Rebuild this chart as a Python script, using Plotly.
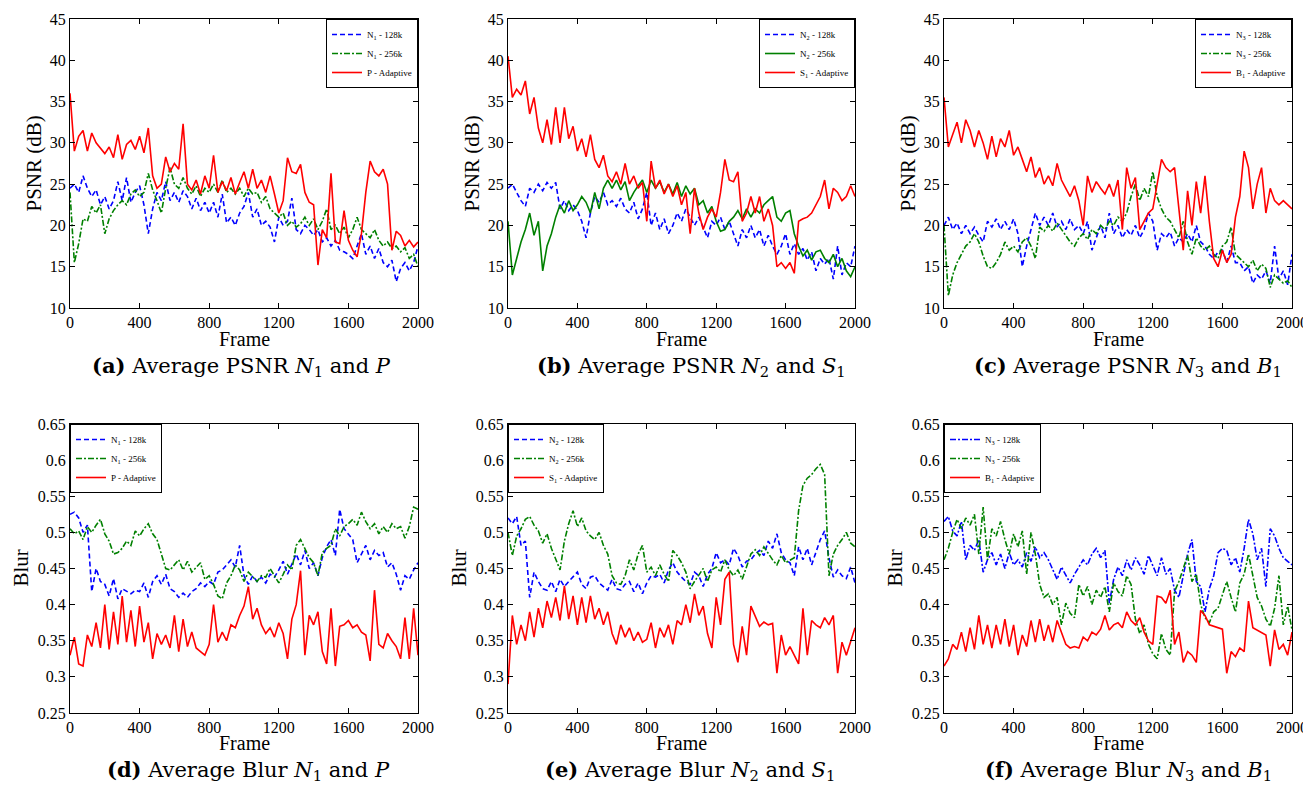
import plotly.graph_objects as go

# ---------------- data (frame index every 25 frames) ----------------
frames = list(range(0, 2001, 25))

psnr_a_n1_128k = [24.5, 25.0, 24.0, 26.0, 24.5, 23.5, 24.3, 22.5, 23.5, 22.0,
                  23.0, 25.3, 23.0, 25.8, 22.8, 24.0, 24.8, 22.5, 19.0, 22.0,
                  24.0, 23.0, 25.3, 23.0, 24.0, 22.8, 24.2, 23.5, 22.0, 23.3,
                  21.8, 22.8, 21.5, 22.8, 21.0, 23.8, 20.3, 21.0, 20.0, 21.5,
                  22.3, 24.0, 21.0, 22.0, 20.0, 20.5, 19.8, 18.0, 21.0, 20.0,
                  20.5, 23.3, 19.5, 19.0, 20.0, 19.5, 18.8, 19.5, 18.0, 18.5,
                  17.5, 18.2, 17.0, 16.8, 16.5, 16.0, 17.5, 19.0, 16.5, 17.5,
                  16.0, 17.2, 15.5, 15.0, 15.8, 13.2, 14.8, 15.5, 14.5, 15.5,
                  17.5]
psnr_a_n1_256k = [24.0, 15.5, 17.8, 20.8, 20.5, 22.3, 21.5, 22.5, 19.0, 20.8,
                  21.8, 22.5, 23.0, 22.5, 23.8, 24.3, 23.5, 24.0, 26.3, 24.3,
                  23.0, 21.5, 24.5, 27.0, 25.0, 24.5, 25.8, 24.5, 23.8, 24.8,
                  23.5, 24.5, 24.0, 25.0, 24.0, 25.5, 24.0, 24.5, 23.8, 24.5,
                  23.5, 24.5, 23.8, 24.0, 22.8, 23.5, 22.0, 21.5, 21.0, 21.5,
                  20.0, 20.5, 19.8, 20.2, 21.0, 20.0, 20.8, 19.5, 20.5, 22.0,
                  19.5, 20.0, 19.0, 19.8, 18.5, 19.5, 21.0, 19.5, 19.0, 18.5,
                  19.5, 18.2, 17.5, 18.0, 17.2, 17.5, 16.8, 17.3, 16.0, 16.5,
                  15.0]
psnr_a_p_adaptive = [36.0, 29.0, 30.8, 31.5, 29.0, 31.2, 30.0, 29.3, 28.7, 29.5,
                     28.2, 31.0, 28.0, 29.8, 30.3, 29.2, 30.8, 28.8, 31.8, 26.0,
                     24.5, 25.0, 28.3, 26.5, 27.5, 26.8, 32.3, 25.0, 24.3, 25.5,
                     23.8, 26.0, 24.5, 28.5, 24.0, 25.3, 24.2, 25.8, 23.8, 25.2,
                     26.5, 24.5, 26.8, 24.5, 25.5, 24.0, 26.0, 23.8, 21.5, 23.0,
                     28.2, 26.5, 26.3, 27.4, 24.0, 22.8, 22.5, 15.2, 19.5, 18.5,
                     26.3, 18.0, 17.8, 21.8, 18.2, 17.0, 16.2, 19.0, 24.0, 27.8,
                     26.5, 26.0, 26.8, 25.0, 17.0, 19.3, 18.8, 17.5, 18.2, 17.4,
                     18.0]

psnr_b_n2_128k = [24.5, 25.0, 24.0, 23.0, 22.3, 24.5, 24.0, 25.0, 24.2, 25.2,
                  24.5, 25.2, 22.0, 23.0, 21.8, 22.5, 21.8, 20.5, 18.5, 21.5,
                  23.5, 22.8, 24.0, 22.5, 23.0, 22.3, 23.3, 22.0, 21.5, 22.8,
                  20.8, 22.0, 24.0, 20.0, 21.5, 19.5, 20.8, 19.0, 20.0, 21.5,
                  20.5, 22.0, 21.0, 20.0, 21.0, 19.8, 18.5, 20.5, 20.0, 21.0,
                  19.5, 20.5, 19.0, 17.5, 19.5, 18.5, 20.0, 18.5, 19.5, 17.5,
                  18.8, 17.5, 16.5, 17.5, 19.0, 16.5, 17.8, 16.5, 17.2, 15.8,
                  16.8, 14.5, 16.0, 15.3, 16.0, 13.5, 17.5, 14.0, 15.5, 15.0,
                  17.5]
psnr_b_n2_256k = [20.5, 14.0, 16.0, 18.0, 19.5, 21.5, 18.8, 20.5, 14.5, 17.5,
                  19.0, 21.0, 22.5, 21.5, 23.0, 21.8, 22.5, 23.5, 22.8, 21.5,
                  24.0, 22.0, 24.5, 25.5, 24.5, 25.5, 24.3, 25.3, 23.0, 24.0,
                  24.8, 25.5, 24.0, 25.5, 24.5, 25.3, 24.0, 25.0, 23.8, 25.2,
                  23.5, 24.8, 23.8, 24.5, 22.5, 23.0, 21.5, 22.3, 20.5, 19.3,
                  19.5, 20.5, 21.0, 21.8, 20.8, 22.0, 21.0, 22.0, 21.5, 22.5,
                  23.0, 23.5, 21.0, 20.5, 21.5, 21.8, 19.0, 17.5, 16.3, 17.0,
                  15.8, 16.8, 17.0, 16.0, 15.5, 16.5, 15.0, 16.0, 14.5, 13.8,
                  15.0]
psnr_b_s1_adaptive = [40.5, 35.5, 36.5, 35.8, 37.5, 33.5, 35.5, 31.8, 30.0, 32.8,
                      29.8, 34.3, 30.0, 34.3, 30.5, 32.0, 29.0, 30.5, 28.3, 31.0,
                      28.0, 27.0, 28.5, 26.0, 25.3, 26.5, 25.0, 27.5, 25.0, 26.0,
                      24.5, 25.2, 20.5, 27.8, 24.5, 25.5, 23.8, 25.0, 23.5, 24.8,
                      22.5, 24.0, 19.0, 24.5, 21.5, 19.5, 21.0, 22.0, 21.0, 24.0,
                      28.0, 25.5, 25.3, 26.5, 20.5, 21.5, 23.5, 21.5, 23.5, 20.5,
                      22.0, 20.0, 15.0, 15.5, 14.8, 15.5, 14.2, 20.5, 20.8, 21.0,
                      21.5, 22.5, 23.5, 25.5, 22.0, 24.5, 24.0, 23.0, 23.5, 24.8,
                      23.5]

psnr_c_n3_128k = [20.0, 21.0, 19.5, 20.3, 19.0, 20.0, 19.0, 19.8, 18.8, 18.0,
                  20.5, 19.8, 20.8, 19.5, 20.5, 19.5, 20.8, 19.0, 15.0, 17.5,
                  19.5, 21.5, 20.0, 21.0, 20.0, 21.5, 19.8, 20.5, 19.5, 20.8,
                  19.5, 20.0, 19.0, 20.5, 17.0, 18.5, 20.0, 18.5, 21.5, 19.0,
                  20.0, 18.5, 19.5, 18.8, 20.0, 18.5, 19.5, 21.5, 20.5, 17.0,
                  19.0, 18.5, 19.2, 17.5, 18.5, 18.0, 19.0, 18.0, 20.0, 18.0,
                  17.5, 16.5, 16.0, 16.8, 17.0, 15.5, 17.5, 15.5, 15.5, 14.5,
                  15.0, 13.0, 14.0, 13.5, 14.5, 13.0, 17.5, 13.5, 14.5, 12.8,
                  16.5]
psnr_c_n3_256k = [20.0, 11.5, 14.0, 15.5, 16.5, 17.5, 18.0, 19.0, 18.0, 16.3,
                  15.0, 14.8, 15.5, 16.5, 18.0, 17.0, 17.5, 16.8, 18.0, 18.5,
                  17.5, 16.0, 19.8, 19.3, 20.0, 19.3, 20.3, 19.5, 18.8, 18.0,
                  17.5, 18.5, 19.0, 18.3, 19.5, 19.0, 20.0, 19.5, 20.5, 20.0,
                  21.0, 20.5, 21.5, 23.5, 25.0, 23.0, 24.5, 23.5, 26.5, 23.5,
                  22.0, 21.0, 20.5, 19.5, 18.5, 20.5, 18.0, 16.5, 18.5, 17.5,
                  17.0, 17.5, 16.5, 16.0, 17.5, 18.0, 19.8, 16.5, 16.0, 15.5,
                  15.0, 15.8, 14.5, 15.3, 14.8, 12.5, 14.0, 13.5, 13.0, 13.3,
                  12.5]
psnr_c_b1_adaptive = [35.5, 29.5, 31.0, 32.5, 30.0, 32.8, 31.5, 29.5, 31.5, 30.0,
                      28.0, 30.8, 28.3, 30.5, 29.5, 31.5, 28.5, 29.5, 28.0, 26.5,
                      28.3, 25.8, 27.0, 25.0, 26.0, 24.8, 27.5, 25.5, 24.5, 23.5,
                      24.8, 23.0, 20.0, 26.0, 24.0, 25.3, 24.5, 23.8, 25.0, 23.5,
                      25.5, 19.5, 27.0, 24.5, 25.8, 19.5, 20.5, 21.5, 22.0, 25.0,
                      28.0, 27.0, 26.5, 27.0, 22.0, 17.0, 24.2, 20.0, 25.3, 21.5,
                      26.0, 20.5, 16.0, 15.0, 17.0, 15.5, 16.5, 21.0, 23.5, 29.0,
                      27.0, 22.0, 25.0, 27.0, 21.5, 24.5, 23.0, 22.5, 23.0, 22.5,
                      22.0]

blur_d_n1_128k = [0.525, 0.528, 0.520, 0.500, 0.510, 0.418, 0.450, 0.432, 0.428, 0.412,
                  0.436, 0.408, 0.422, 0.418, 0.415, 0.420, 0.418, 0.430, 0.410, 0.432,
                  0.440, 0.428, 0.442, 0.422, 0.418, 0.410, 0.416, 0.410, 0.418, 0.422,
                  0.430, 0.425, 0.432, 0.428, 0.445, 0.448, 0.455, 0.462, 0.452, 0.482,
                  0.440, 0.428, 0.440, 0.432, 0.438, 0.430, 0.442, 0.438, 0.448, 0.460,
                  0.442, 0.455, 0.470, 0.455, 0.475, 0.450, 0.458, 0.440, 0.465, 0.480,
                  0.490, 0.468, 0.532, 0.505, 0.498, 0.490, 0.458, 0.470, 0.482, 0.462,
                  0.475, 0.468, 0.472, 0.452, 0.458, 0.442, 0.420, 0.440, 0.435, 0.448,
                  0.458]
blur_d_n1_256k = [0.505, 0.498, 0.502, 0.490, 0.508, 0.500, 0.510, 0.518, 0.498, 0.488,
                  0.470, 0.472, 0.478, 0.488, 0.482, 0.502, 0.495, 0.505, 0.512, 0.498,
                  0.490, 0.470, 0.450, 0.448, 0.455, 0.462, 0.448, 0.460, 0.445, 0.452,
                  0.458, 0.435, 0.440, 0.428, 0.412, 0.408, 0.430, 0.440, 0.455, 0.448,
                  0.432, 0.445, 0.438, 0.432, 0.440, 0.438, 0.450, 0.440, 0.430, 0.442,
                  0.455, 0.448, 0.482, 0.490, 0.478, 0.465, 0.458, 0.440, 0.472, 0.478,
                  0.482, 0.505, 0.495, 0.508, 0.512, 0.518, 0.510, 0.528, 0.515, 0.505,
                  0.512, 0.498, 0.508, 0.500, 0.512, 0.505, 0.508, 0.492, 0.508, 0.535,
                  0.532]
blur_d_p_adaptive = [0.330, 0.355, 0.318, 0.315, 0.358, 0.342, 0.375, 0.340, 0.400, 0.338,
                     0.390, 0.345, 0.412, 0.348, 0.392, 0.342, 0.398, 0.348, 0.375, 0.325,
                     0.360, 0.345, 0.358, 0.340, 0.385, 0.335, 0.380, 0.342, 0.362, 0.340,
                     0.335, 0.330, 0.345, 0.400, 0.348, 0.362, 0.350, 0.372, 0.368, 0.385,
                     0.398, 0.425, 0.380, 0.395, 0.372, 0.360, 0.368, 0.355, 0.375, 0.360,
                     0.325, 0.380, 0.400, 0.447, 0.330, 0.385, 0.372, 0.390, 0.335, 0.318,
                     0.395, 0.315, 0.370, 0.372, 0.378, 0.368, 0.372, 0.362, 0.358, 0.322,
                     0.420, 0.345, 0.340, 0.360, 0.350, 0.342, 0.325, 0.382, 0.325, 0.395,
                     0.330]

blur_e_n2_128k = [0.520, 0.512, 0.522, 0.482, 0.488, 0.410, 0.445, 0.432, 0.422, 0.420,
                  0.432, 0.418, 0.435, 0.425, 0.432, 0.438, 0.445, 0.428, 0.422, 0.438,
                  0.440, 0.430, 0.425, 0.420, 0.435, 0.422, 0.420, 0.428, 0.432, 0.418,
                  0.430, 0.415, 0.430, 0.440, 0.438, 0.442, 0.430, 0.448, 0.458, 0.445,
                  0.438, 0.432, 0.428, 0.445, 0.440, 0.425, 0.442, 0.450, 0.472, 0.458,
                  0.462, 0.455, 0.478, 0.468, 0.452, 0.460, 0.462, 0.470, 0.475, 0.468,
                  0.488, 0.478, 0.498, 0.472, 0.462, 0.458, 0.440, 0.480, 0.462, 0.478,
                  0.455, 0.472, 0.490, 0.502, 0.465, 0.438, 0.448, 0.440, 0.436, 0.452,
                  0.430]
blur_e_n2_256k = [0.500, 0.468, 0.495, 0.505, 0.518, 0.522, 0.510, 0.502, 0.485, 0.498,
                  0.478, 0.462, 0.448, 0.488, 0.512, 0.530, 0.508, 0.520, 0.502, 0.495,
                  0.490, 0.500, 0.482, 0.470, 0.440, 0.430, 0.428, 0.440, 0.462, 0.448,
                  0.470, 0.482, 0.445, 0.452, 0.440, 0.455, 0.442, 0.432, 0.475, 0.468,
                  0.458, 0.445, 0.422, 0.432, 0.442, 0.450, 0.432, 0.448, 0.452, 0.445,
                  0.462, 0.448, 0.440, 0.448, 0.435, 0.452, 0.470, 0.476, 0.468, 0.480,
                  0.470, 0.462, 0.455, 0.468, 0.458, 0.462, 0.465, 0.530, 0.565, 0.575,
                  0.580, 0.588, 0.594, 0.580, 0.440, 0.470, 0.482, 0.490, 0.500, 0.485,
                  0.480]
blur_e_s1_adaptive = [0.290, 0.385, 0.345, 0.372, 0.350, 0.390, 0.355, 0.395, 0.368, 0.405,
                      0.382, 0.410, 0.378, 0.426, 0.380, 0.412, 0.372, 0.410, 0.375, 0.412,
                      0.380, 0.395, 0.372, 0.390, 0.360, 0.345, 0.372, 0.355, 0.368, 0.350,
                      0.362, 0.348, 0.352, 0.375, 0.340, 0.368, 0.355, 0.372, 0.345, 0.378,
                      0.372, 0.400, 0.375, 0.415, 0.385, 0.398, 0.360, 0.340, 0.410, 0.372,
                      0.435, 0.445, 0.345, 0.320, 0.370, 0.330, 0.398, 0.385, 0.370, 0.376,
                      0.372, 0.374, 0.305, 0.358, 0.330, 0.342, 0.330, 0.318, 0.395, 0.330,
                      0.378, 0.372, 0.368, 0.382, 0.372, 0.385, 0.305, 0.348, 0.330, 0.350,
                      0.368]

blur_f_n3_128k = [0.515, 0.522, 0.502, 0.495, 0.515, 0.462, 0.482, 0.475, 0.490, 0.445,
                  0.462, 0.472, 0.455, 0.470, 0.450, 0.472, 0.455, 0.462, 0.452, 0.472,
                  0.460, 0.480, 0.465, 0.472, 0.462, 0.448, 0.435, 0.452, 0.440, 0.430,
                  0.442, 0.452, 0.462, 0.455, 0.470, 0.478, 0.465, 0.475, 0.402, 0.435,
                  0.452, 0.440, 0.462, 0.448, 0.465, 0.455, 0.442, 0.468, 0.455, 0.440,
                  0.465, 0.442, 0.450, 0.420, 0.410, 0.442, 0.470, 0.490, 0.432, 0.425,
                  0.390, 0.422, 0.440, 0.472, 0.478, 0.475, 0.455, 0.465, 0.445, 0.478,
                  0.518, 0.498, 0.462, 0.478, 0.425, 0.505, 0.495, 0.478, 0.465, 0.460,
                  0.455]
blur_f_n3_256k = [0.462, 0.478, 0.500, 0.518, 0.505, 0.520, 0.510, 0.525, 0.470, 0.535,
                  0.462, 0.505, 0.495, 0.515, 0.490, 0.470, 0.498, 0.480, 0.502, 0.442,
                  0.500, 0.470, 0.428, 0.410, 0.415, 0.400, 0.410, 0.372, 0.402, 0.388,
                  0.382, 0.428, 0.412, 0.425, 0.400, 0.420, 0.410, 0.425, 0.390, 0.430,
                  0.418, 0.412, 0.440, 0.428, 0.380, 0.360, 0.372, 0.345, 0.332, 0.325,
                  0.360, 0.338, 0.330, 0.418, 0.432, 0.450, 0.468, 0.432, 0.442, 0.400,
                  0.382, 0.375, 0.390, 0.395, 0.415, 0.432, 0.410, 0.390, 0.430, 0.442,
                  0.470, 0.440, 0.410, 0.398, 0.380, 0.370, 0.395, 0.440, 0.372, 0.398,
                  0.365]
blur_f_b1_adaptive = [0.315, 0.325, 0.345, 0.338, 0.362, 0.335, 0.368, 0.338, 0.385, 0.345,
                      0.372, 0.340, 0.372, 0.345, 0.380, 0.342, 0.372, 0.330, 0.358, 0.342,
                      0.378, 0.348, 0.380, 0.350, 0.372, 0.348, 0.378, 0.360, 0.345, 0.340,
                      0.342, 0.340, 0.355, 0.350, 0.362, 0.358, 0.366, 0.385, 0.365, 0.372,
                      0.375, 0.368, 0.390, 0.378, 0.372, 0.382, 0.362, 0.350, 0.345, 0.412,
                      0.410, 0.402, 0.420, 0.345, 0.362, 0.320, 0.335, 0.330, 0.320, 0.392,
                      0.385, 0.372, 0.370, 0.368, 0.366, 0.305, 0.335, 0.328, 0.340, 0.335,
                      0.405, 0.368, 0.365, 0.362, 0.358, 0.315, 0.365, 0.338, 0.345, 0.330,
                      0.362]

x_tick_values = [0, 400, 800, 1200, 1600, 2000]
psnr_tick_values = [10, 15, 20, 25, 30, 35, 40, 45]
blur_tick_values = [0.25, 0.3, 0.35, 0.4, 0.45, 0.5, 0.55, 0.6, 0.65]
blur_tick_labels = ["0.25", "0.3", "0.35", "0.4", "0.45", "0.5", "0.55", "0.6", "0.65"]

# ---------------- styling ----------------
# The page body has an 8px margin, so the figure is 16px smaller than the window
# and every window-pixel position is shifted by 8px.
WIN_W, WIN_H = 1311, 792
OFF = 8
W, H = WIN_W - 2 * OFF, WIN_H - 2 * OFF


def px(xw):
    return (xw - OFF) / W


def py(yw):
    return 1 - (yw - OFF) / H


FONT = "Liberation Serif"
CAPFONT = "DejaVu Serif"
BLUE, GREEN, RED = "#0000FF", "#008000", "#FF0000"
DASH = "5px,3px"
DASHDOT = "6px,2px,2px,2px"

cols = [(70, 418), (508, 855), (944, 1292)]
rows = [(19, 308), (424, 713)]
frame_off = [31, 30]
cap_off = [58, 57]

panels = [
    dict(series=[(psnr_a_n1_128k, "N<sub>1</sub> - 128k", BLUE, DASH),
                 (psnr_a_n1_256k, "N<sub>1</sub> - 256k", GREEN, DASHDOT),
                 (psnr_a_p_adaptive, "P - Adaptive", RED, "solid")],
         kind="psnr", caption="<b>(a)</b> Average PSNR <i>N</i><sub>1</sub> and <i>P</i>", capx=241),
    dict(series=[(psnr_b_n2_128k, "N<sub>2</sub> - 128k", BLUE, DASH),
                 (psnr_b_n2_256k, "N<sub>2</sub> - 256k", GREEN, "solid"),
                 (psnr_b_s1_adaptive, "S<sub>1</sub> - Adaptive", RED, "solid")],
         kind="psnr", caption="<b>(b)</b> Average PSNR <i>N</i><sub>2</sub> and <i>S</i><sub>1</sub>", capx=691),
    dict(series=[(psnr_c_n3_128k, "N<sub>3</sub> - 128k", BLUE, DASH),
                 (psnr_c_n3_256k, "N<sub>3</sub> - 256k", GREEN, DASHDOT),
                 (psnr_c_b1_adaptive, "B<sub>1</sub> - Adaptive", RED, "solid")],
         kind="psnr", caption="<b>(c)</b> Average PSNR <i>N</i><sub>3</sub> and <i>B</i><sub>1</sub>", capx=1128),
    dict(series=[(blur_d_n1_128k, "N<sub>1</sub> - 128k", BLUE, DASH),
                 (blur_d_n1_256k, "N<sub>1</sub> - 256k", GREEN, DASHDOT),
                 (blur_d_p_adaptive, "P - Adaptive", RED, "solid")],
         kind="blur", caption="<b>(d)</b> Average Blur <i>N</i><sub>1</sub> and <i>P</i>", capx=248),
    dict(series=[(blur_e_n2_128k, "N<sub>2</sub> - 128k", BLUE, DASH),
                 (blur_e_n2_256k, "N<sub>2</sub> - 256k", GREEN, DASHDOT),
                 (blur_e_s1_adaptive, "S<sub>1</sub> - Adaptive", RED, "solid")],
         kind="blur", caption="<b>(e)</b> Average Blur <i>N</i><sub>2</sub> and <i>S</i><sub>1</sub>", capx=690),
    dict(series=[(blur_f_n3_128k, "N<sub>3</sub> - 128k", BLUE, DASHDOT),
                 (blur_f_n3_256k, "N<sub>3</sub> - 256k", GREEN, DASHDOT),
                 (blur_f_b1_adaptive, "B<sub>1</sub> - Adaptive", RED, "solid")],
         kind="blur", caption="<b>(f)</b> Average Blur <i>N</i><sub>3</sub> and <i>B</i><sub>1</sub>", capx=1128),
]

fig = go.Figure()
annotations = []
layout_extra = {}

for i, p in enumerate(panels):
    r, c = divmod(i, 3)
    x0, x1 = cols[c]
    y0, y1 = rows[r]
    suffix = "" if i == 0 else str(i + 1)
    legname = "legend" if i == 0 else f"legend{i + 1}"
    for vals, name, color, dash in p["series"]:
        assert len(vals) == len(frames), (name, len(vals))
        fig.add_trace(go.Scatter(
            x=frames, y=vals, mode="lines", name=name,
            line=dict(color=color, width=1.6, dash=dash),
            xaxis="x" + suffix, yaxis="y" + suffix, legend=legname,
            showlegend=True))

    common = dict(showline=True, linecolor="black", linewidth=1, mirror="ticks",
                  ticks="inside", ticklen=5, tickcolor="black", showgrid=False,
                  zeroline=False, automargin=False, ticklabeloverflow="allow",
                  tickfont=dict(family=FONT, size=16, color="black"))
    layout_extra["xaxis" + suffix] = dict(
        domain=[px(x0), px(x1)], range=[0, 2000], anchor="y" + suffix,
        tickvals=x_tick_values, **common)
    if p["kind"] == "psnr":
        yax = dict(range=[10, 45], tickvals=psnr_tick_values)
        ylabel, ylab_off = "PSNR (dB)", 36
    else:
        yax = dict(range=[0.25, 0.65], tickvals=blur_tick_values, ticktext=blur_tick_labels)
        ylabel, ylab_off = "Blur", 50
    layout_extra["yaxis" + suffix] = dict(
        domain=[py(y1), py(y0)], anchor="x" + suffix, **yax, **common)

    leg = dict(bgcolor="white", bordercolor="black", borderwidth=1,
               font=dict(family=FONT, size=9, color="black"),
               itemwidth=30, tracegroupgap=0, yanchor="top", y=py(y0))
    if p["kind"] == "psnr":
        leg.update(x=px(x1), xanchor="right")
    else:
        leg.update(x=px(x0), xanchor="left")
    layout_extra[legname] = leg

    # axis titles and caption
    annotations.append(dict(text="Frame", x=px((x0 + x1) / 2), y=py(y1 + frame_off[r]),
                            xref="paper", yref="paper", showarrow=False,
                            xanchor="center", yanchor="middle",
                            font=dict(family=FONT, size=20, color="black")))
    annotations.append(dict(text=ylabel, x=px(x0 - ylab_off), y=py((y0 + y1) / 2),
                            xref="paper", yref="paper", showarrow=False, textangle=-90,
                            xanchor="center", yanchor="middle",
                            font=dict(family=FONT, size=21, color="black")))
    annotations.append(dict(text=p["caption"], x=px(p["capx"]), y=py(y1 + cap_off[r]),
                            xref="paper", yref="paper", showarrow=False,
                            xanchor="center", yanchor="middle",
                            font=dict(family=CAPFONT, size=21, color="black")))

fig.update_layout(
    width=W, height=H, margin=dict(l=0, r=0, t=0, b=0),
    paper_bgcolor="white", plot_bgcolor="white",
    annotations=annotations, **layout_extra)

fig.write_html("out.html")
